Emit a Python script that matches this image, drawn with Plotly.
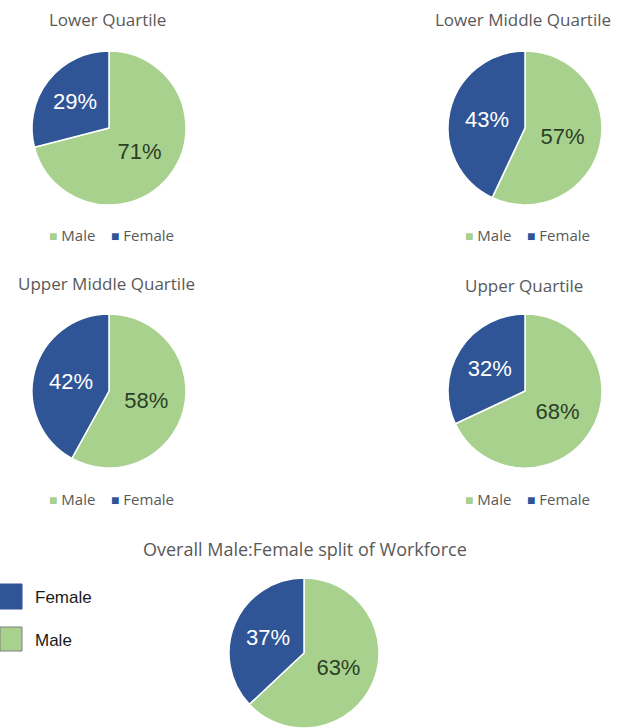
import plotly.graph_objects as go

W, H = 627, 728

labels = ["Male", "Female"]
titles = ["Lower Quartile", "Lower Middle Quartile", "Upper Middle Quartile",
          "Upper Quartile", "Overall Male:Female split of Workforce"]
male_pct = [71, 57, 58, 68, 63]
female_pct = [29, 43, 42, 32, 37]

MALE_C = "#A9D18E"
FEMALE_C = "#2F5597"
GREY = "#595959"

# pixel layout: (center x, center y, radius, title y, legend y)
layout_px = [
    (109, 128, 77, 19, 235),
    (525, 128, 77, 19, 235),
    (109, 391, 77, 284, 499),
    (525, 391, 77, 286, 499),
    (304, 653, 75, 549, None),
]
title_x = [107, 523, 106, 524, 305]


def px(x, y):
    return x / W, 1 - y / H


fig = go.Figure()
annotations = []
for i, (cx, cy, r, ty, ly) in enumerate(layout_px):
    x0, y1 = px(cx - r, cy - r)
    x1, y0 = px(cx + r, cy + r)
    fig.add_trace(go.Pie(
        labels=labels,
        values=[male_pct[i], female_pct[i]],
        sort=False,
        direction="clockwise",
        rotation=0,
        domain=dict(x=[max(0, x0), min(1, x1)], y=[max(0, y0), min(1, y1)]),
        marker=dict(colors=[MALE_C, FEMALE_C], line=dict(color="white", width=1.5)),
        texttemplate="%{value}%",
        textposition="inside",
        insidetextorientation="horizontal",
        textfont=dict(family="Liberation Sans, Arial", size=22,
                      color=["#2b3f26", "white"]),
        showlegend=False,
        hoverinfo="label+percent",
    ))
    tx, tyy = px(title_x[i], ty)
    annotations.append(dict(
        x=tx, y=tyy, xref="paper", yref="paper", text=titles[i],
        showarrow=False, xanchor="center", yanchor="middle",
        font=dict(family="Open Sans", size=17 if i < 4 else 18, color=GREY),
    ))
    if ly is not None:
        lx, lyy = px(cx + 2, ly)
        annotations.append(dict(
            x=lx, y=lyy, xref="paper", yref="paper",
            text=(f'<span style="color:{MALE_C};font-size:14px">■</span> {labels[0]}'
                  f'    <span style="color:{FEMALE_C};font-size:14px">■</span> {labels[1]}'),
            showarrow=False, xanchor="center", yanchor="middle",
            font=dict(family="Open Sans", size=15, color=GREY),
        ))

# bottom legend (Female, Male) with larger swatches
shapes = []
swatches = [(labels[1], FEMALE_C, 584, 609, 597), (labels[0], MALE_C, 627, 651, 640)]
for name, col, top, bot, ty in swatches:
    sx0, sy1 = px(0, top)
    sx1, sy0 = px(22, bot)
    shapes.append(dict(type="rect", xref="paper", yref="paper",
                       x0=sx0, x1=sx1, y0=sy0, y1=sy1, fillcolor=col,
                       line=dict(color="#7f7f7f" if col == MALE_C else col, width=1)))
    ax, ay = px(33, ty)
    annotations.append(dict(
        x=ax, y=ay, xref="paper", yref="paper", text=name, showarrow=False,
        xanchor="left", yanchor="middle",
        font=dict(family="Liberation Sans, Arial", size=17, color="#1a1a1a"),
    ))

fig.update_layout(
    width=W, height=H,
    margin=dict(l=0, r=0, t=0, b=0),
    paper_bgcolor="white", plot_bgcolor="white",
    annotations=annotations, shapes=shapes,
)

fig.write_html("out.html", config={"displayModeBar": False},
               post_script="document.body.style.margin='0';document.body.style.overflow='hidden';")
